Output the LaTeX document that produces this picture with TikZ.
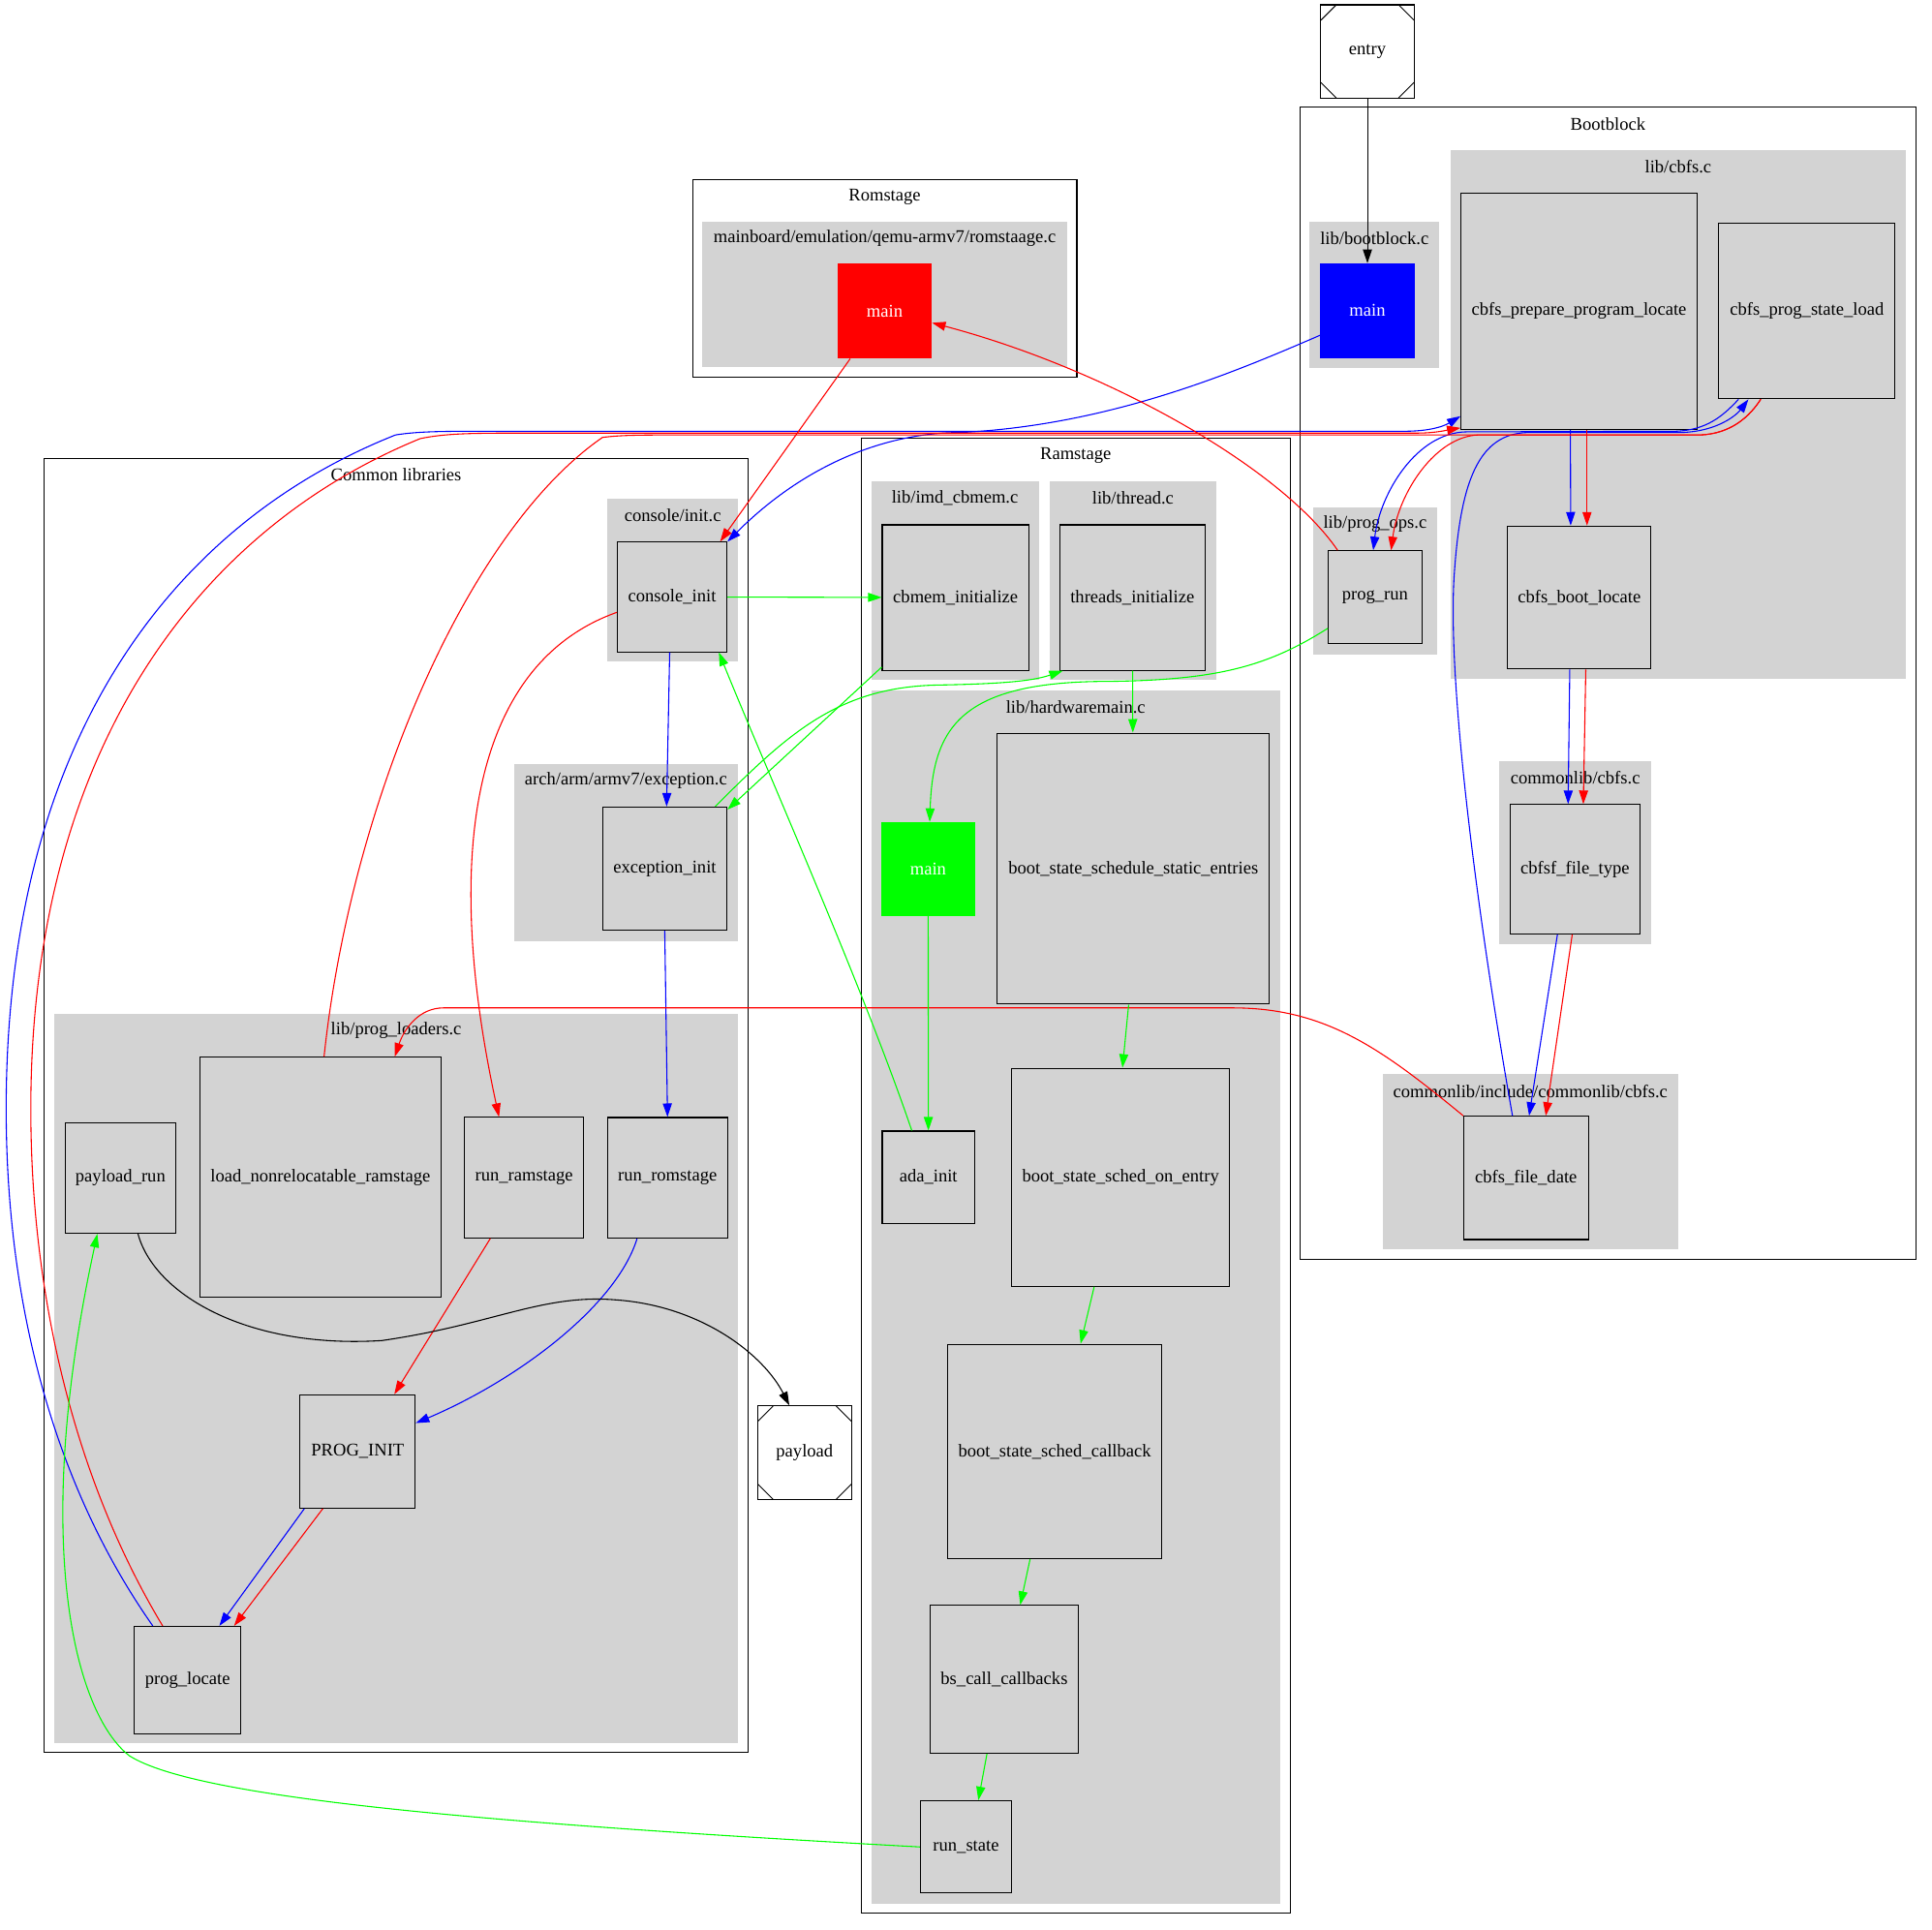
\documentclass[tikz,border=0pt]{standalone}
\usepackage{fontspec}
\setmainfont{Liberation Serif}
\usetikzlibrary{arrows.meta}
\definecolor{gvgray}{HTML}{D3D3D3}
\definecolor{gvgreen}{HTML}{00FF00}
\definecolor{gvblue}{HTML}{0000FF}
\definecolor{gvred}{HTML}{FF0000}
\begin{document}
\begin{tikzpicture}[x=1pt,y=-1pt,
  txt/.style={font=\fontsize{14.6}{17}\selectfont},
  frame/.style={draw=black,line width=0.85pt},
  group/.style={fill=gvgray},
  lbl/.style={txt,inner sep=0pt},
  fn/.style 2 args={txt,draw=black,line width=0.85pt,inner sep=0pt,
    minimum width=#1,minimum height=#2},
  stagemain/.style={fill=#1,draw=#1,text=white},
  msq/.style={path picture={
    \draw[line width=0.7pt]
      ([yshift=-12.5pt]path picture bounding box.north west) -- ([xshift=12.5pt]path picture bounding box.north west)
      ([yshift=-12.5pt]path picture bounding box.north east) -- ([xshift=-12.5pt]path picture bounding box.north east)
      ([yshift=12.5pt]path picture bounding box.south west) -- ([xshift=12.5pt]path picture bounding box.south west)
      ([yshift=12.5pt]path picture bounding box.south east) -- ([xshift=-12.5pt]path picture bounding box.south east);}},
  edge/.style={line width=0.85pt},
  arr/.style={edge,-{Triangle[length=11pt,width=7.3pt]}}
]
\fill[white] (0,0) rectangle (1568,1566);
\useasboundingbox (0,0) rectangle (1568,1566);

% ---------- stage frames ----------
\draw[frame] (562,146) rectangle (874,306);
\draw[frame] (1055,87) rectangle (1555,1022);
\draw[frame] (699,356) rectangle (1047,1553);
\draw[frame] (36,372) rectangle (607,1422);
\node[lbl] (romstage-lbl) at (718,159.5) {Romstage};
\node[lbl] (bootblock-lbl) at (1305,100.5) {Bootblock};
\node[lbl] (ramstage-lbl) at (873,369.5) {Ramstage};
\node[lbl] (common-lbl) at (321.5,385.5) {Common libraries};

% ---------- source file groups ----------
\fill[group] (570,180) rectangle (866,298);
\fill[group] (1063,180) rectangle (1168,299);
\fill[group] (1177,122) rectangle (1547,551);
\fill[group] (1066,412) rectangle (1166,531);
\fill[group] (1217,618) rectangle (1340,766);
\fill[group] (1122,872) rectangle (1362,1014);
\fill[group] (707,391) rectangle (843,552);
\fill[group] (852,391) rectangle (987,552);
\fill[group] (707,560) rectangle (1039,1545);
\fill[group] (493,405) rectangle (599,537);
\fill[group] (417,620) rectangle (599,764);
\fill[group] (44,823) rectangle (599,1415);
\node[lbl] (g-romstage) at (718,193.5) {mainboard/emulation/qemu-armv7/romstaage.c};
\node[lbl] (g-bootblock) at (1115.5,193.5) {lib/bootblock.c};
\node[lbl] (g-cbfs) at (1362,135.5) {lib/cbfs.c};
\node[lbl] (g-progops) at (1116,425.5) {lib/prog\_ops.c};
\node[lbl] (g-commoncbfs) at (1278.5,631.5) {commonlib/cbfs.c};
\node[lbl] (g-commoninc) at (1242,885.5) {commonlib/include/commonlib/cbfs.c};
\node[lbl] (g-imd) at (775,404.5) {lib/imd\_cbmem.c};
\node[lbl] (g-thread) at (919.5,404.5) {lib/thread.c};
\node[lbl] (g-hwmain) at (873,573.5) {lib/hardwaremain.c};
\node[lbl] (g-console) at (546,418.5) {console/init.c};
\node[lbl] (g-exception) at (508,633.5) {arch/arm/armv7/exception.c};
\node[lbl] (g-loaders) at (321.5,836.5) {lib/prog\_loaders.c};

% ---------- functions ----------
\node[fn={75.6pt}{75.5pt},msq] (entry) at (1109.8,41.7) {entry};
\node[fn={75.6pt}{76pt},stagemain=gvblue] (bmain) at (1109.8,252) {main};
\node[fn={191.5pt}{191.7pt}] (cpl) at (1281.5,252.5) {cbfs\_prepare\_program\_locate};
\node[fn={143pt}{142.3pt}] (cpsl) at (1466.5,252.5) {cbfs\_prog\_state\_load};
\node[fn={116.5pt}{116pt}] (cbl) at (1281.75,485) {cbfs\_boot\_locate};
\node[fn={76pt}{75pt}] (pr) at (1116,484.5) {prog\_run};
\node[fn={105.5pt}{105pt}] (cft) at (1278.25,705.5) {cbfsf\_file\_type};
\node[fn={101pt}{100pt}] (cfd) at (1238.5,956) {cbfs\_file\_date};
\node[fn={76pt}{76.5pt},stagemain=gvred] (rmain) at (718,252.5) {main};
\node[fn={119pt}{118pt}] (cbmem) at (775.5,485) {cbmem\_initialize};
\node[fn={118pt}{118pt}] (threads) at (919,485) {threads\_initialize};
\node[fn={75.5pt}{75.5pt},stagemain=gvgreen] (gmain) at (753.25,705.25) {main};
\node[fn={220.5pt}{220pt}] (bss) at (919.75,705) {boot\_state\_schedule\_static\_entries};
\node[fn={75pt}{75pt}] (ada) at (753.5,955.5) {ada\_init};
\node[fn={177pt}{177pt}] (oe) at (909.5,955.5) {boot\_state\_sched\_on\_entry};
\node[fn={174pt}{174pt}] (scb) at (856,1178) {boot\_state\_sched\_callback};
\node[fn={120pt}{120pt}] (bsc) at (815,1363) {bs\_call\_callbacks};
\node[fn={74pt}{75pt}] (rs) at (784,1499) {run\_state};
\node[fn={89pt}{89pt}] (ci) at (545.5,484.5) {console\_init};
\node[fn={101pt}{100pt}] (exc) at (539.5,705) {exception\_init};
\node[fn={89.5pt}{90pt}] (prun) at (97.75,956) {payload\_run};
\node[fn={196pt}{195pt}] (lnr) at (260,955.5) {load\_nonrelocatable\_ramstage};
\node[fn={96.7pt}{97.7pt}] (rr) at (425.3,955.8) {run\_ramstage};
\node[fn={97.5pt}{98pt}] (rrom) at (541.75,956) {run\_romstage};
\node[fn={93.4pt}{92pt}] (pi) at (290.3,1178) {PROG\_INIT};
\node[fn={86.5pt}{87pt}] (pl) at (152.25,1363.5) {prog\_locate};
\node[fn={76pt}{76pt},msq] (payload) at (653,1179) {payload};

% ---------- bootblock calls (blue) ----------
\draw[arr,black] (entry) -- (bmain);
\draw[arr,gvblue] ([yshift=-20pt]bmain.west) .. controls (1000,303) and (900,345) .. (780,351)
  .. controls (715,351) and (650,380) .. (ci.north east);
\draw[arr,gvblue] ([xshift=-2pt]ci.south) -- ([xshift=1.5pt]exc.north);
\draw[arr,gvblue] (exc.south) -- (rrom.north);
\draw[arr,gvblue] ([xshift=-24.75pt]rrom.south) .. controls (500,1060) and (420,1120) .. ([yshift=23pt]pi.east);
\draw[arr,gvblue] ([xshift=-43.3pt]pi.south) -- ([xshift=25.75pt]pl.north);
\draw[arr,gvblue] ([xshift=-28.25pt]pl.north) .. controls (40,1200) and (5,1050) .. (5,900)
  .. controls (5,600) and (140,425) .. (321,353) .. controls (340,350) and (360,350) .. (400,350)
  -- (1140,350) .. controls (1165,350) and (1175,344) .. ([yshift=11pt]cpl.south west);
\draw[arr,gvblue] ([xshift=-7pt]cpl.south) -- ([xshift=-7pt]cbl.north);
\draw[arr,gvblue] ([xshift=-7.75pt]cbl.south) -- ([xshift=-5.6pt]cft.north);
\draw[arr,gvblue] ([xshift=-14.25pt]cft.south) -- ([xshift=2.5pt]cfd.north);
\draw[arr,gvblue] ([xshift=-11pt]cfd.north) .. controls (1200,750) and (1175,560) .. (1180,470)
  .. controls (1185,390) and (1200,352) .. (1240,351) -- (1365,351)
  .. controls (1395,350) and (1410,336) .. ([xshift=-47.5pt]cpsl.south);
\draw[arr,gvblue] ([xshift=-55.5pt]cpsl.south) .. controls (1398,338) and (1385,349) .. (1360,350)
  -- (1190,350.5) .. controls (1150,351) and (1120,400) .. ([xshift=-1.5pt]pr.north);

% ---------- romstage calls (red) ----------
\draw[arr,gvred] ([xshift=8pt]pr.north west) .. controls (1040,380) and (900,300) .. ([yshift=-9.5pt]rmain.east);
\draw[arr,gvred] ([xshift=-28pt]rmain.south) -- ([xshift=-6pt]ci.north east);
\draw[arr,gvred] ([yshift=-12.5pt]ci.west) .. controls (380,540) and (360,700) .. ([xshift=-20.3pt]rr.north);
\draw[arr,gvred] ([xshift=-27.3pt]rr.south) -- ([xshift=29.7pt]pi.north);
\draw[arr,gvred] ([xshift=-28.3pt]pi.south) -- ([xshift=37.75pt]pl.north);
\draw[arr,gvred] ([xshift=-20.25pt]pl.north) .. controls (60,1200) and (25,1050) .. (25,900)
  .. controls (25,610) and (160,430) .. (341,356) .. controls (360,352) and (380,351.5) .. (420,351.5)
  -- (1150,351.5) .. controls (1165,351.5) and (1175,349) .. ([yshift=1.5pt]cpl.south west);
\draw[arr,gvred] ([xshift=6.5pt]cpl.south) -- ([xshift=6.25pt]cbl.north);
\draw[arr,gvred] ([xshift=5.25pt]cbl.south) -- ([xshift=6.75pt]cft.north);
\draw[arr,gvred] ([xshift=-2.25pt]cft.south) -- ([xshift=16pt]cfd.north);
\draw[arr,gvred] (cfd.north west) .. controls (1120,850) and (1075,818) .. (1000,818)
  -- (360,818) .. controls (340,818) and (328,835) .. ([xshift=-38pt]lnr.north east);
\draw[edge,gvred] ([xshift=3pt]lnr.north) .. controls (285,650) and (380,430) .. (489,355)
  .. controls (505,353) and (520,353) .. (560,353) -- (1380,353)
  .. controls (1405,352) and (1420,338) .. ([xshift=-37.5pt]cpsl.south);
\draw[arr,gvred] ([xshift=-37.5pt]cpsl.south) .. controls (1420,338) and (1405,352) .. (1380,353)
  -- (1200,353) .. controls (1165,354) and (1135,400) .. ([xshift=13pt]pr.north);

% ---------- ramstage calls (green) ----------
\draw[arr,gvgreen] ([yshift=-25.5pt]pr.west) .. controls (1030,540) and (990,552) .. (900,553)
  .. controls (780,553) and (757,590) .. ([xshift=1.3pt]gmain.north);
\draw[arr,gvgreen] (gmain) -- (ada);
\draw[arr,gvgreen] ([xshift=-13.5pt]ada.north) .. controls (700,800) and (620,620) .. ([xshift=-7pt]ci.south east);
\draw[arr,gvgreen] (ci) -- (cbmem);
\draw[arr,gvgreen] ([yshift=3pt]cbmem.south west) -- ([yshift=-2.5pt]exc.north east);
\draw[arr,gvgreen] ([xshift=-10pt]exc.north east) .. controls (640,595) and (680,558) .. (760,556)
  .. controls (820,555) and (840,552) .. ([xshift=3pt]threads.south west);
\draw[arr,gvgreen] (threads) -- (bss);
\draw[arr,gvgreen] ([xshift=-3.75pt]bss.south) -- ([xshift=1.5pt]oe.north);
\draw[arr,gvgreen] ([xshift=-21.5pt]oe.south) -- ([xshift=21pt]scb.north);
\draw[arr,gvgreen] ([xshift=-20pt]scb.south) -- ([xshift=13pt]bsc.north);
\draw[arr,gvgreen] ([xshift=-14pt]bsc.south) -- ([xshift=10pt]rs.north);
\draw[arr,gvgreen] (rs.west) .. controls (400,1480) and (160,1460) .. (105,1425)
  .. controls (60,1390) and (25,1250) .. ([xshift=-18.75pt]prun.south);

% ---------- hand-off to the payload ----------
\draw[arr,black] ([xshift=14.25pt]prun.south) .. controls (125,1050) and (200,1095) .. (310,1088)
  .. controls (400,1075) and (440,1050) .. (500,1055)
  .. controls (570,1060) and (620,1100) .. ([xshift=-12.4pt]payload.north);
\end{tikzpicture}
\end{document}
